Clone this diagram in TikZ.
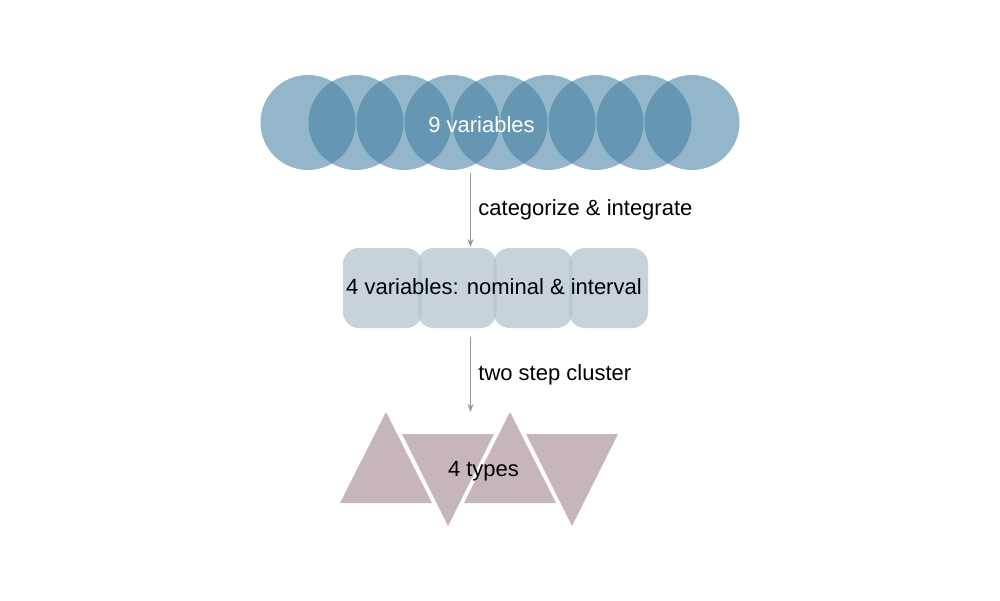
\documentclass[tikz,border=0pt]{standalone}
\usepackage{fontspec}
\setmainfont{Liberation Sans}
\definecolor{circblue}{RGB}{64,125,160}
\definecolor{sqgray}{RGB}{182,198,204}
\definecolor{tripink}{RGB}{198,181,187}
\definecolor{arrowgray}{RGB}{150,150,150}
\usetikzlibrary{arrows.meta}
\tikzset{
  circ/.style={circle, minimum size=95pt, inner sep=0pt, fill=circblue, fill opacity=0.56, draw=none},
  sq/.style={rectangle, rounded corners=16pt, minimum width=79pt, minimum height=80pt, inner sep=0pt, fill=sqgray, fill opacity=0.77, draw=none},
  tri/.style={fill=tripink, draw=none},
  lbl/.style={font=\fontsize{22}{26}\selectfont, inner sep=0pt},
  conn/.style={draw=arrowgray, line width=1.8pt, -{Stealth[length=8pt,width=6pt]}}
}
\begin{document}
\begin{tikzpicture}[x=1pt,y=-1pt]
\useasboundingbox (0,0) rectangle (1000,600);
% circles
\foreach \i in {0,...,8} {
  \node[circ] (c\i) at ({308+48*\i},122.5) {};
}
\node[lbl, text=white] (t1) at (481.5,125) {9 variables};
% rounded squares
\node[sq] (s0) at (382.5,288) {};
\node[sq] (s1) at (457,288) {};
\node[sq] (s2) at (533,288) {};
\node[sq] (s3) at (608.5,288) {};
\node[lbl] (t2) at (494,287) {4 variables: nominal \& interval};
% triangles
\fill[tri] (340,503) -- (386,412) -- (432,503) -- cycle;
\fill[tri] (402,434) -- (494,434) -- (448,526) -- cycle;
\fill[tri] (464,503) -- (510,412) -- (556,503) -- cycle;
\fill[tri] (526,434) -- (618,434) -- (572,526) -- cycle;
\node[lbl] (t3) at (483.5,471) {4 types};
% connectors
\coordinate (a1s) at (470.5,173);
\coordinate (a1e) at (470.5,247);
\coordinate (a2s) at (470.5,337);
\coordinate (a2e) at (470.5,412);
\draw[conn] (a1s) -- (a1e) node[midway, right=7pt, lbl, text=black] (l1) {categorize \& integrate};
\draw[conn] (a2s) -- (a2e) node[midway, right=7pt, lbl, text=black] (l2) {two step cluster};
\end{tikzpicture}
\end{document}
